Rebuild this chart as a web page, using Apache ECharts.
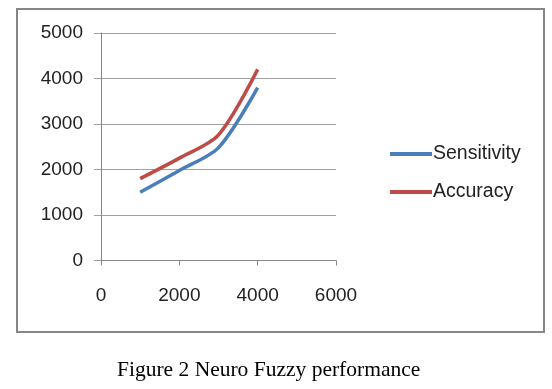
<!DOCTYPE html>
<html><head><meta charset="utf-8">
<script src="https://cdn.jsdelivr.net/npm/echarts@6/dist/echarts.min.js"></script>
<style>
html,body{margin:0;padding:0;background:#fff;}
#frame{position:absolute;left:16px;top:8px;width:525px;height:321px;border:2px solid #868686;}
#chart{position:absolute;left:0;top:0;width:552px;height:389px;}
</style></head>
<body>
<div id="frame"></div>
<div id="chart"></div>
<script>
const xValues = [1000, 2000, 3000, 4000];
const sensitivity = [1500, 1980, 2480, 3800];
const accuracy = [1800, 2250, 2760, 4200];
const seriesNames = ['Sensitivity', 'Accuracy'];
const caption = 'Figure 2 Neuro Fuzzy performance';

const chart = echarts.init(document.getElementById('chart'), null, {renderer: 'canvas'});
const labelFont = {fontFamily: 'Liberation Sans', fontSize: 19, color: '#222'};
chart.setOption({
  animation: false,
  backgroundColor: 'transparent',
  title: {
    text: caption, left: 112, top: 354,
    textStyle: {fontFamily: 'Liberation Serif', fontSize: 21.5, fontWeight: 'normal', color: '#000'}
  },
  legend: {
    orient: 'vertical', left: 385, top: 139, itemGap: 18,
    itemWidth: 42, itemHeight: 4,
    icon: 'rect',
    textStyle: Object.assign({}, labelFont, {fontSize: 19.5, padding: [0,0,0,-4]}),
    data: seriesNames
  },
  grid: {left: 101, right: 216, top: 33, bottom: 128.5, containLabel: false},
  xAxis: {
    type: 'value', min: 0, max: 6000, interval: 2000,
    axisLine: {show: true, onZero: false, lineStyle: {color: '#868686'}},
    axisTick: {show: true, inside: false, length: 5, lineStyle: {color: '#868686'}},
    splitLine: {show: false},
    axisLabel: Object.assign({margin: 26, formatter: v => String(v)}, labelFont)
  },
  yAxis: {
    type: 'value', min: 0, max: 5000, interval: 1000,
    axisLine: {show: true, lineStyle: {color: '#868686'}},
    axisTick: {show: true, inside: false, length: 7, lineStyle: {color: '#a0a0a0'}},
    splitLine: {show: true, lineStyle: {color: '#a0a0a0', width: 1}},
    axisLabel: Object.assign({margin: 18, formatter: v => String(v)}, labelFont)
  },
  series: [
    {name: seriesNames[0], type: 'line', smooth: 0.3, showSymbol: false,
     lineStyle: {color: '#4A7EBB', width: 3.5}, itemStyle: {color: '#4A7EBB'},
     data: xValues.map((x, i) => [x, sensitivity[i]])},
    {name: seriesNames[1], type: 'line', smooth: 0.3, showSymbol: false,
     lineStyle: {color: '#BE4B48', width: 3.5}, itemStyle: {color: '#BE4B48'},
     data: xValues.map((x, i) => [x, accuracy[i]])}
  ]
});
</script>
</body></html>
